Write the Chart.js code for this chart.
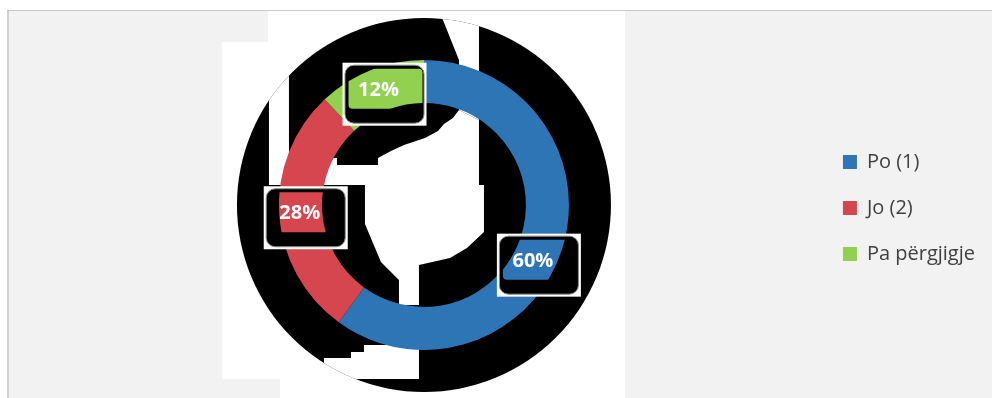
<!DOCTYPE html>
<html><head><meta charset="utf-8">
<script src="https://cdn.jsdelivr.net/npm/chart.js@4.4.0/dist/chart.umd.min.js"></script>
<style>
html,body{margin:0;padding:0;background:#fff;width:992px;height:398px;overflow:hidden;}
#panel{position:absolute;left:7px;top:10px;width:985px;height:388px;background:#f2f2f2;border-top:1px solid #c8c8c8;border-left:2px solid #d0d0d0;box-sizing:border-box;}
.w{position:absolute;background:#fff;}
canvas{position:absolute;left:0;top:0;}
</style></head><body>
<div id="panel"></div>
<div class="w" style="left:268px;top:11px;width:357px;height:31px"></div>
<div class="w" style="left:222px;top:42px;width:403px;height:337px"></div>
<div class="w" style="left:280px;top:379px;width:345px;height:19px"></div>
<canvas id="c" width="992" height="398"></canvas>
<script>
const categories = ['Po (1)', 'Jo (2)', 'Pa përgjigje'];
const shares = [60, 28, 12];
const valueLabels = ['60%', '28%', '12%'];
const sliceColors = ['#2E75B6', '#D5464F', '#92D050'];

// decorative black halo (relative to a 145px outer radius) and white gaps in it
const HALO_R = 187;
const WHITE_GAPS = [
  [[35,-95],[55,-85],[55,-20],[60,-20],[60,27],[43,43],[26,53],[-5,60],[-5,100],[-25,100],[-25,75],[-43,57],[-59,19],[-59,-20],[-105,-20],[-105,-47],[-87,-47],[-87,-40],[-46,-40],[-46,-47],[-33,-54],[-20,-60],[1,-67],[14,-74],[20,-81],[29,-87]],
  [[13,-200],[55,-200],[55,-85],[35,-95],[35,-145]],
  [[-155,-140],[-135,-140],[-135,-20],[-155,-20]],
  [[-100,153],[-73,153],[-73,147],[-60,147],[-60,140],[-5,140],[-5,174],[-100,174]]
];
const LABEL_NUDGE = [[-8.5,18],[-1,1],[0,0]];

Chart.defaults.font.family = '"Open Sans", sans-serif';

const backdrop = {
  id: 'backdrop',
  beforeDatasetsDraw(chart) {
    const arc = chart.getDatasetMeta(0).data[0];
    if (!arc) return;
    const ctx = chart.ctx, cx = arc.x, cy = arc.y, s = arc.outerRadius / 145;
    ctx.save();
    ctx.beginPath(); ctx.arc(cx, cy, HALO_R * s, 0, Math.PI * 2);
    ctx.fillStyle = '#000'; ctx.fill();
    ctx.clip();
    ctx.fillStyle = '#fff';
    for (const poly of WHITE_GAPS) {
      ctx.beginPath();
      poly.forEach(([x, y], i) => i ? ctx.lineTo(cx + x * s, cy + y * s) : ctx.moveTo(cx + x * s, cy + y * s));
      ctx.closePath(); ctx.fill();
    }
    ctx.restore();
  },
  afterDatasetsDraw(chart) {
    const meta = chart.getDatasetMeta(0);
    const ctx = chart.ctx;
    const s = meta.data[0].outerRadius / 145;
    meta.data.forEach((arc, i) => {
      const p = arc.getCenterPoint();
      const n = LABEL_NUDGE[i] || [0, 0];
      const tx = p.x + n[0] * s, ty = p.y + n[1] * s;
      const bw = 84, bh = 63;
      const bx = tx + 6 - bw / 2, by = ty + 4 - bh / 2;
      ctx.save();
      ctx.fillStyle = '#fff'; ctx.fillRect(bx, by, bw, bh);
      ctx.beginPath(); ctx.roundRect(bx + 2.5, by + 2.5, bw - 5, bh - 5, 9);
      ctx.fillStyle = '#000'; ctx.fill();
      ctx.lineWidth = 1; ctx.strokeStyle = '#8a8a8a'; ctx.stroke();
      ctx.save();
      ctx.beginPath(); ctx.roundRect(bx + 6, by + 6, bw - 10, bh - 23, 4); ctx.clip();
      meta.data.forEach(a => a.draw(ctx));
      ctx.restore();
      ctx.fillStyle = '#fff';
      ctx.font = 'bold 20px "Open Sans"';
      ctx.textAlign = 'center'; ctx.textBaseline = 'middle';
      ctx.fillText(valueLabels[i], tx, ty);
      ctx.restore();
    });
  }
};

new Chart(document.getElementById('c'), {
  type: 'doughnut',
  data: {
    labels: categories,
    datasets: [{
      data: shares,
      backgroundColor: sliceColors,
      borderWidth: 0
    }]
  },
  options: {
    responsive: false,
    devicePixelRatio: 1,
    animation: false,
    cutout: '70.3%',
    layout: { padding: { top: 60, bottom: 48, left: 31, right: 7 } },
    plugins: {
      tooltip: { enabled: false },
      legend: {
        position: 'right',
        title: { display: true, text: '', font: { size: 1, lineHeight: 1 }, padding: { top: 2.5, bottom: 2.5 } },
        labels: {
          color: '#404040',
          font: { size: 20, family: '"Open Sans"' },
          boxWidth: 14, boxHeight: 14, padding: 26
        }
      }
    }
  },
  plugins: [backdrop]
});
</script>
</body></html>
